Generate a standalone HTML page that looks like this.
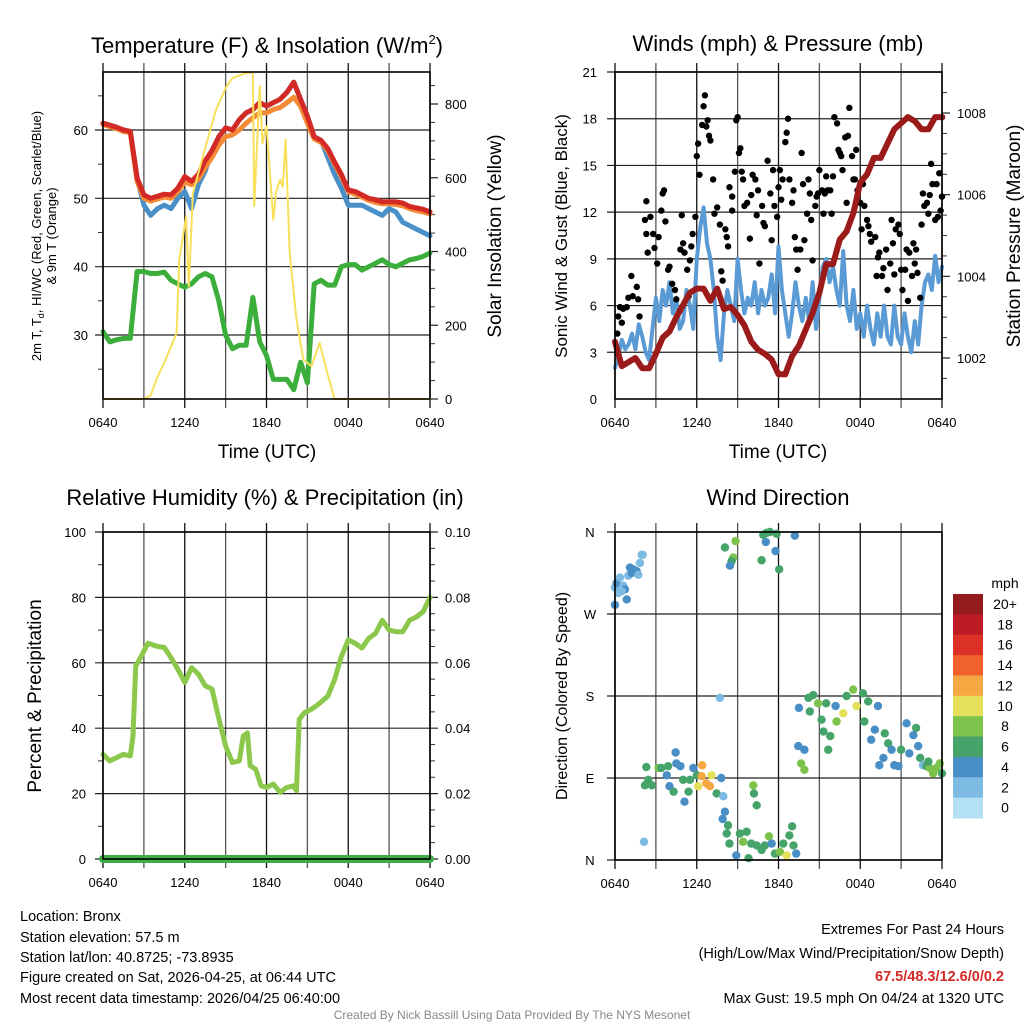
<!DOCTYPE html>
<html><head><meta charset="utf-8"><style>
body{margin:0;background:#fff;}
svg{display:block;font-family:"Liberation Sans",Arial,sans-serif;}
</style></head><body>
<svg id="c" width="1024" height="1024" viewBox="0 0 1024 1024" xmlns="http://www.w3.org/2000/svg">
<g id="g"></g>
<text x="267" y="53" font-size="22" text-anchor="middle">Temperature (F) &amp; Insolation (W/m<tspan font-size="13" dy="-9">2</tspan><tspan dy="9">)</tspan></text>
<text x="778" y="51" font-size="22" text-anchor="middle">Winds (mph) &amp; Pressure (mb)</text>
<text x="265" y="505" font-size="22" text-anchor="middle">Relative Humidity (%) &amp; Precipitation (in)</text>
<text x="778" y="505" font-size="22" text-anchor="middle">Wind Direction</text>
<text x="267" y="458" font-size="19" text-anchor="middle">Time (UTC)</text>
<text x="778" y="458" font-size="19" text-anchor="middle">Time (UTC)</text>
<g transform="translate(41,236) rotate(-90)" font-size="13" text-anchor="middle">
<text x="0" y="0">2m T, T<tspan font-size="9" dy="3">d</tspan><tspan dy="-3">, HI/WC (Red, Green, Scarlet/Blue)</tspan></text>
<text x="0" y="15">&amp; 9m T (Orange)</text></g>
<text transform="translate(501,236) rotate(-90)" font-size="19" text-anchor="middle">Solar Insolation (Yellow)</text>
<text transform="translate(567,236) rotate(-90)" font-size="17" text-anchor="middle">Sonic Wind &amp; Gust (Blue, Black)</text>
<text transform="translate(1020,236) rotate(-90)" font-size="19" text-anchor="middle">Station Pressure (Maroon)</text>
<text transform="translate(41,696) rotate(-90)" font-size="19" text-anchor="middle">Percent &amp; Precipitation</text>
<text transform="translate(567,696) rotate(-90)" font-size="16" text-anchor="middle">Direction (Colored By Speed)</text>
<text x="1005" y="588" font-size="14" text-anchor="middle">mph</text>
<g font-size="14.5">
<text x="20" y="921">Location: Bronx</text>
<text x="20" y="942">Station elevation: 57.5 m</text>
<text x="20" y="962">Station lat/lon: 40.8725; -73.8935</text>
<text x="20" y="982">Figure created on Sat, 2026-04-25, at 06:44 UTC</text>
<text x="20" y="1003">Most recent data timestamp: 2026/04/25 06:40:00</text>
</g>
<g font-size="14.5" text-anchor="end">
<text x="1004" y="934">Extremes For Past 24 Hours</text>
<text x="1004" y="958">(High/Low/Max Wind/Precipitation/Snow Depth)</text>
<text x="1004" y="981" fill="#d42a26" font-weight="bold">67.5/48.3/12.6/0/0.2</text>
<text x="1004" y="1003">Max Gust: 19.5 mph On 04/24 at 1320 UTC</text>
</g>
<text x="512" y="1019" font-size="12" fill="#888" text-anchor="middle">Created By Nick Bassill Using Data Provided By The NYS Mesonet</text>
</svg>
<script>
// ---- data (hours after 0640 UTC) ----
const timeLabels = ["0640","1240","1840","0040","0640"];
const halfHours = Array.from({length:49},(_,i)=>i*0.5);
const tempRed = [61,60.7,60.4,60,59.8,53,50.5,50,50.3,50.6,50.5,51.5,53.2,52.5,53.5,55.5,57,59,60.3,60,61.5,62.5,63,64,63.5,64,64.5,65.5,67,64.5,62,59,58.5,57.3,55.3,53.5,51.2,51,50.5,50,49.8,49.5,49.5,49.5,49.3,48.8,48.6,48.4,48];
const tempOrange = [60.8,60.5,60.2,59.8,59.6,52.5,50,49.6,49.9,50.2,50,51,52.4,52,52.8,54.5,56,57.8,59,59.3,60,61,61.8,62.5,62.5,63,63.3,64,64.8,63.5,61,58.7,58.2,57,55,53.2,51,50.6,50.2,49.7,49.4,49.2,49.2,49.1,48.9,48.5,48.2,48,47.7];
const tempBlue = [61,60.7,60.4,60,59.8,53,49,47.5,48.5,49,48.5,50,51,48.5,52,54,57,59,60.3,60,61.5,62.5,63,64,63.5,64,64.5,65.5,67,64.5,62,59,58.5,56,53.5,51.5,49,49,49,48.5,48,47.5,48.5,48,46.5,46,45.5,45,44.5];
const dewGreen = [30.5,29,29.3,29.5,29.5,39.3,39.3,39,39,39.2,38,37.5,37,37.5,38.5,39,38.5,35,30,28,28.5,28.5,35.5,29,27,23.5,23.5,23.5,22,26,23,37.5,38,37.3,37.3,40,40.3,40.3,39.5,40,40.5,41,40.3,40,40.5,41,41.2,41.5,42];
const insolHours = [0,3,3.5,4,4.6,5.4,5.6,6.1,6.3,6.6,7.6,8.3,9,9.5,10.5,11,11.1,11.5,11.7,12,12.5,12.7,13,13.2,13.4,13.7,14.2,14.7,15.3,15.9,16.4,17,24];
const insolVals = [0,0,10,60,107,179,378,495,305,558,694,785,843,870,884,884,523,848,694,740,486,560,595,575,703,396,215,107,89,152,80,0,0];
const windQuarter = [2,2.8,3.8,3.2,3.5,4.2,3.2,4.8,4,3,2.5,4.5,6.5,5,7,6,7.5,5.5,6.5,4.5,5,7,6,4.5,9,11,12.3,10,9,7,4,2.5,5.5,7,6,5,9,7,5.5,6.5,6,7.5,5.5,7,6,6.5,8,5.5,9.8,7,5.5,4,5.5,7.5,6,5,6.5,5,7.5,4.5,6.5,8.5,9,7.5,8.5,7,6,9.5,6,5,7,4.5,5.5,4,6,4.5,3.5,5.5,4,6,4,3.5,6,4,3.5,5.5,4,3,5,3.5,6,7.5,8,7,9.2,7.5,8.5];
const pressure = [1002.4,1001.8,1001.9,1002,1001.75,1001.75,1002.1,1002.5,1002.65,1003,1003.3,1003.6,1003.7,1003.7,1003.4,1003.7,1003.2,1003.25,1003.05,1002.8,1002.4,1002.2,1002.1,1001.96,1001.6,1001.6,1002.05,1002.3,1002.7,1003.1,1003.6,1004.3,1004.3,1004.9,1005.1,1005.55,1006.3,1006.5,1006.9,1006.9,1007.25,1007.6,1007.75,1007.9,1007.8,1007.6,1007.6,1007.9,1007.9];
const gustHours = [0.17,0.24,0.37,0.5,0.6,0.86,0.98,1.2,1.3,1.6,1.7,1.8,2.2,2.3,2.3,2.4,2.6,2.8,2.9,3.1,3.2,3.4,3.5,3.6,3.7,3.9,4.0,4.2,4.4,4.5,4.8,4.9,5.0,5.1,5.3,5.4,5.5,5.6,5.7,5.9,6.0,6.1,6.2,6.4,6.5,6.6,6.7,6.8,6.9,7.0,7.2,7.3,7.5,7.7,7.8,7.9,8.1,8.2,8.3,8.4,8.6,8.6,8.8,8.9,9.0,9.1,9.2,9.3,9.4,9.5,9.7,9.9,10.0,10.1,10.3,10.4,10.5,10.6,10.8,10.9,11.0,11.2,11.4,11.5,11.6,11.7,11.9,12.0,12.1,12.2,12.3,12.5,12.6,12.7,12.8,13.0,13.1,13.2,13.3,13.4,13.6,13.7,13.8,13.9,14.1,14.2,14.3,14.4,14.5,14.7,14.8,14.9,15.0,15.2,15.3,15.4,15.5,15.6,15.8,15.9,16.0,16.1,16.3,16.4,16.5,16.6,16.7,16.9,17.0,17.1,17.2,17.4,17.5,17.6,17.7,17.8,18.0,18.1,18.2,18.3,18.5,18.6,18.7,18.8,19.1,19.2,19.3,19.4,19.6,19.7,19.9,20.0,20.2,20.3,20.4,20.5,20.6,20.8,20.9,21.0,21.1,21.3,21.4,21.5,21.6,21.8,21.9,22.0,22.1,22.2,22.4,22.5,22.6,22.7,22.9,23.0,23.1,23.2,23.3,23.5,23.6,23.7,23.8,23.9,24,24];
const gustVals = [4.2,5.3,5.9,4.9,5.8,5.9,6.5,7.9,6.6,7.2,6.4,5.3,11.5,12.7,10.6,9.4,11.7,10.6,9.7,8.7,10.4,12.1,13.2,13.4,11.4,8.3,8.5,7.4,7.0,6.4,9.6,11.8,10.0,9.4,8.3,6.6,8.9,9.8,10.6,11.7,15.6,16.4,14.4,17.6,18.8,19.5,17.5,17.9,16.9,16.6,14.1,11.9,12.3,11.2,8.2,7.6,10.9,10.4,9.8,13.6,12.1,13.0,14.6,17.9,18.1,15.8,16.1,14.6,14.1,12.4,12.6,10.3,13.1,14.4,14.1,11.8,13.4,8.7,12.4,11.3,11.1,15.3,13.2,10.2,14.7,12.4,11.7,13.6,14.7,12.8,14.1,16.5,17.1,18.0,14.1,12.6,13.4,10.4,9.6,8.3,9.6,15.8,13.8,10.2,11.9,14.1,13.2,11.5,8.9,12.4,13.0,13.2,14.7,13.4,11.9,13.2,14.3,13.4,13.4,11.9,14.3,18.1,17.7,16.0,15.8,15.6,14.7,16.8,12.6,16.9,18.7,15.6,14.1,14.1,16.0,13.4,12.6,10.9,13.8,12.4,11.5,11.1,10.6,10.1,10.4,7.9,9.1,9.4,7.9,8.4,9.6,7.0,8.7,11.5,10.0,8.0,10.9,11.2,10.6,8.3,7.0,8.3,9.6,6.3,9.4,7.9,10.0,8.7,9.6,8.1,6.5,11.2,13.2,12.4,12.6,11.9,13.1,15.1,13.8,11.5,13.8,11.7,14.5,12.1,13.0,18.1];
const rhHours = [0,0.5,1,1.5,2,2.2,2.4,2.8,3.3,4,4.5,5,5.5,6,6.5,7,7.5,8,8.5,9,9.5,10,10.3,10.6,10.8,11.2,11.6,12,12.5,13,13.5,14,14.2,14.4,14.8,15.3,15.8,16.5,17,17.5,18,18.5,19,19.5,20,20.5,21,21.5,22,22.5,23,23.5,24];
const rhVals = [32,30,31,32,31.5,37.6,59,62,66,65,64.7,61.5,58,54,58.5,56.5,53,52,43,34.6,29.5,30,37.6,38.6,28.5,27.5,22.4,21.9,22.9,20.4,21.9,22.4,20.9,42.7,44.8,45.8,47.3,49.8,54.9,62,67,66,64.5,67.5,69,73,70,69.5,69.5,73,74,75.7,80];
const precipVals = [0,0];
const dirHours = [0,0.12,0.37,0.61,0.73,0.49,0.24,0.86,0.98,1.1,1.22,1.34,1.59,1.83,1.96,2.03,0,1.71,8.07,8.85,8.68,8.56,8.44,10.76,10.88,11.12,11.37,11.86,11.07,11.78,12.05,13.2,7.7,2.3,2.2,2.44,2.7,3.2,3.4,3.8,3.9,4.0,4.3,4.45,4.5,4.8,5.0,5.1,5.4,5.5,5.75,6.0,6.1,6.4,6.36,6.7,6.97,7.09,7.46,7.8,7.95,8.07,7.9,8.3,8.2,8.4,8.9,9.17,9.4,9.66,10.0,10.15,10.2,10.4,9.8,10.4,10.76,11.0,11.3,11.5,11.74,12.1,12.35,12.6,12.8,13.0,13.3,13.1,13.5,13.45,13.9,13.66,13.9,14.2,14.3,14.55,14.9,15.16,15.3,15.5,15.65,15.8,16.26,16.19,16.75,17.0,17.48,17.73,18.2,18.3,18.58,18.8,19.07,19.3,19.4,19.7,19.8,20.05,20.3,20.5,20.8,21.0,21.4,21.6,21.9,22.1,22.25,22.4,22.6,22.86,23.1,23.35,23.6,23.84,24,23.0,2.13];
const dirDeg = [299,304,310,301,297,295,293,286,312,321,315,319,317,326,335,335,280,313,343,350,332,328,323,329,357,359,360,358,349,339,319,356,178,102,82,88,82,101,101,93,103,81,75,118,106,103,88,64,75,88,101,93,81,104,92,84,81,93,73,90,70,53,45,38,29,18,5,29,20,31,18,82,73,60,2,16,11,16,26,18,7,9,18,5,27,37,7,16,167,125,121,106,99,178,163,181,172,154,141,172,121,136,152,169,161,180,187,169,183,152,174,132,143,169,104,112,139,128,121,104,103,121,150,117,137,145,125,112,104,103,101,95,101,106,95,108,20];
const dirSpeed = [3,4,2,3,4,2,3,4,3,4,4,5,4,3,2,2,4,3,6,8,8,7,4,6,7,6,7,6,4,4,6,4,2,6,6,7,7,8,7,5,6,5,6,4,4,5,6,4,6,7,5,6,10,12,13,12,13,10,6,4,2,4,5,6,7,6,4,7,8,7,6,8,7,6,7,6,7,6,8,4,7,8,6,10,7,6,4,7,4,4,4,8,8,7,6,7,8,6,7,7,6,7,8,4,10,6,8,10,6,6,7,4,4,4,4,4,6,7,4,4,5,6,4,4,4,6,4,7,2,7,8,8,8,8,7,7,2];
const legendLabels = ["20+","18","16","14","12","10","8","6","4","2","0"];
const legendColors = ["#931a1d","#bc1c24","#dc3127","#f0612b","#f5a742","#e5e05a","#7dc24b","#46a36a","#4a8ec6","#7dbbe3","#b3e0f5"];

const NS="http://www.w3.org/2000/svg";
const G=document.getElementById('g');
function mk(tag,attrs,parent){const e=document.createElementNS(NS,tag);for(const k in attrs)e.setAttribute(k,attrs[k]);(parent||G).appendChild(e);return e;}
function txt(x,y,s,size,anchor,parent){const t=mk('text',{x:x,y:y,'font-size':size,'text-anchor':anchor},parent);t.textContent=s;return t;}
function sc(d0,d1,r0,r1){return v=>r0+(v-d0)/(d1-d0)*(r1-r0);}

function panel(name,x0,x1,y0,y1){
  const g=mk('g',{});
  
  
  const xs=sc(0,24,x0,x1);
  for(let h=0;h<=24;h+=3){const x=xs(h);
    const l=mk('line',{x1:x,x2:x,y1:y0-9,y2:y1+9,stroke:(h%6==0)?'#111':'#555','stroke-width':1.3},g);
    }
  timeLabels.forEach((s,i)=>{const t=txt(xs(i*6),y1+28,s,13,'middle',g);
    });
  return {g,xs};
}
function frame(g,x0,x1,y0,y1){const r=mk('rect',{x:x0,y:y0,width:x1-x0,height:y1-y0,fill:'none',stroke:'#000','stroke-width':1.6},g);
  }
function hgrid(g,ys,vals,x0,x1,extL,extR){vals.forEach(v=>{const l=mk('line',{x1:x0-extL,x2:x1+extR,y1:ys(v),y2:ys(v),stroke:'#222','stroke-width':1.2},g);
  });}
function ticks(g,ys,vals,x,len){vals.forEach(v=>{const l=mk('line',{x1:x,x2:x+len,y1:ys(v),y2:ys(v),stroke:'#333','stroke-width':1},g);
  });}
function path(g,xsArr,ysArr,xs,ys,color,w,name){let d='';xsArr.forEach((h,i)=>{d+=(i?'L':'M')+xs(h).toFixed(1)+','+ys(ysArr[i]).toFixed(1);});
  const p=mk('path',{d:d,fill:'none',stroke:color,'stroke-width':w,'stroke-linejoin':'round','stroke-linecap':'round'},g);
  return p;}
function range(n,step){return Array.from({length:n},(_,i)=>i*step);}

// Panel 1: temperature
{const x0=103,x1=430,y0=72,y1=399;const {g,xs}=panel('temperature',x0,x1,y0,y1);
 const yt=sc(30,60,335,130);const yi=sc(0,800,399,104);
 hgrid(g,yt,[30,40,50,60],x0,x1,8,0);
 ticks(g,yt,[25,35,45,55,65],x0-5,5);
 ticks(g,yi,[50,100,150,250,300,350,450,500,550,650,700,750,850],x1,5);
 [0,200,400,600,800].forEach(v=>{const l=mk('line',{x1:x1,x2:x1+8,y1:yi(v),y2:yi(v),stroke:'#222','stroke-width':1.2},g);
   
   const t=txt(445,yi(v)+5,String(v),13,'start',g);});
 [30,40,50,60].forEach(v=>{const t=txt(88,yt(v)+5,String(v),13,'end',g);});
 path(g,halfHours,tempBlue,xs,yt,'#4a90c8',5,'wind-chill-line');
 path(g,halfHours,tempOrange,xs,yt,'#f58a35',5,'9m-temperature-line');
 path(g,halfHours,tempRed,xs,yt,'#d42a26',5,'2m-temperature-line');
 path(g,halfHours,dewGreen,xs,yt,'#3cae3c',5,'dewpoint-line');
 path(g,insolHours,insolVals,xs,yi,'#f8e05a',2,'insolation-line');
 frame(g,x0,x1,y0,y1);}

// Panel 2: winds
{const x0=615,x1=942,y0=72,y1=399;const {g,xs}=panel('winds',x0,x1,y0,y1);
 const yw=sc(0,21,399,72);const yp=sc(1002,1008,358,113);
 hgrid(g,yw,[3,6,9,12,15,18,21],x0,x1,8,0);
 [0,3,6,9,12,15,18,21].forEach(v=>{const t=txt(597,yw(v)+5,String(v),13,'end',g);});
 ticks(g,yp,[1001.5,1002.5,1003,1003.5,1004.5,1005,1005.5,1006.5,1007,1007.5,1008.5],x1,5);
 [1002,1004,1006,1008].forEach(v=>{const l=mk('line',{x1:x1,x2:x1+8,y1:yp(v),y2:yp(v),stroke:'#222','stroke-width':1.2},g);
   
   const t=txt(957,yp(v)+5,String(v),13,'start',g);});
 path(g,range(97,0.25),windQuarter,xs,yw,'#5b9bd5',4,'sustained-wind-line');
 gustHours.forEach((h,i)=>{const c=mk('circle',{cx:xs(h),cy:yw(gustVals[i]),r:3.2,fill:'#000'},g);
   });
 path(g,halfHours,pressure,xs,yp,'#9b1b1b',6,'pressure-line');
 frame(g,x0,x1,y0,y1);}

// Panel 3: humidity
{const x0=103,x1=430,y0=532,y1=859;const {g,xs}=panel('humidity',x0,x1,y0,y1);
 const yr=sc(0,100,859,532);
 hgrid(g,yr,[0,20,40,60,80,100],x0,x1,8,8);
 ticks(g,yr,[10,30,50,70,90],x0-5,5);
 ticks(g,yr,[5,10,15,25,30,35,45,50,55,65,70,75,85,90,95],x1,5);
 [0,20,40,60,80,100].forEach(v=>{const t=txt(86,yr(v)+5,String(v),13,'end',g);
   const t2=txt(445,yr(v)+5,(v/1000).toFixed(2),13,'start',g);});
 path(g,rhHours,rhVals,xs,yr,'#8cc84b',5,'relative-humidity-line');
 path(g,[0,24],precipVals.map(v=>v*1000),xs,yr,'#3fae48',8,'precipitation-line');
 frame(g,x0,x1,y0,y1);}

// Panel 4: wind direction
{const x0=615,x1=942,y0=532,y1=860;const {g,xs}=panel('wind-direction',x0,x1,y0,y1);
 const yd=sc(0,360,860,532);
 hgrid(g,yd,[0,90,180,270,360],x0,x1,8,0);
 ["N","E","S","W","N"].forEach((s,i)=>{const t=txt(590,yd(i*90)+5,s,13,'middle',g);});
 dirHours.forEach((h,i)=>{const b=Math.min(10,Math.floor(dirSpeed[i]/2));
   const c=mk('circle',{cx:xs(h),cy:yd(dirDeg[i]),r:4.2,fill:legendColors[10-b]},g);
   });
 frame(g,x0,x1,y0,y1);
 const bh=224/11;
 legendLabels.forEach((s,i)=>{const r=mk('rect',{x:953,y:594+i*bh,width:30,height:bh+0.5,fill:legendColors[i]},g);
   
   const t=txt(1005,594+i*bh+15,s,14,'middle',g);});
}
</script>
</body></html>
